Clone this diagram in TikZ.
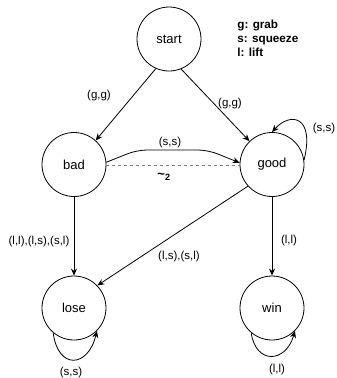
\documentclass[tikz,border=0pt]{standalone}
\usepackage{fontspec}
\setmainfont{Liberation Sans}
\usetikzlibrary{arrows.meta}

\begin{document}
\begin{tikzpicture}[x=1pt,y=-1pt,line width=0.8pt,
    state/.style={circle,draw=black,minimum size=64pt,inner sep=0pt,font=\fontsize{13}{15}\selectfont},
    lbl/.style={inner sep=0pt,font=\fontsize{11.5}{13}\selectfont},
    arr/.style={-{Stealth[length=7pt,width=6pt]}}]
    \useasboundingbox (0,0) rectangle (337,378);

    \node[state] (start) at (169,39) {start};
    \node[state] (bad) at (74,164.5) {bad};
    \node[state] (good) at (272,164.5) {good};
    \node[state] (lose) at (74,308) {lose};
    \node[state] (win) at (272,308) {win};

    \node[anchor=west,align=left,inner sep=0pt,font=\bfseries\fontsize{11.7}{14}\selectfont] (legend) at (237,38) {g: grab\\s: squeeze\\l: lift};

    % transitions
    \draw[arr] (start.246) -- (bad.48);
    \draw[arr] (start.292) -- (good.134);
    \draw[arr,rounded corners=10pt] (bad.4) -- (137,150) -- (208,150) -- (good.177);
    \draw[gray,dash pattern=on 3pt off 3pt] (bad.-2) -- (good.182);
    \draw[arr] (good.8) .. controls (315,115) and (290,112) .. (good.90);
    \draw[arr] (bad.south) -- (lose.north);
    \draw[arr] (good.222) -- (lose.44);
    \draw[arr] (good.south) -- (win.north);
    \draw[arr] (lose.230) .. controls (58,370) and (88,368) .. (lose.-45);
    \draw[arr] (win.230) .. controls (256,365) and (286,363) .. (win.-45);

    \node[lbl] (lsg) at (99,96) {(g,g)};
    \node[lbl] (lgg) at (230,104) {(g,g)};
    \node[lbl] (lbg) at (170,143) {(s,s)};
    \node[inner sep=0pt,font=\bfseries\fontsize{13}{13}\selectfont] (lsim) at (164,177) {\textasciitilde\textsubscript{2}};
    \node[lbl] (lgl) at (324,129) {(s,s)};
    \node[lbl] (lbl) at (39,242) {(l,l),(l,s),(s,l)};
    \node[lbl] (lgo) at (179,257) {(l,s),(s,l)};
    \node[lbl] (lgw) at (289,241) {(l,l)};
    \node[lbl] (lll) at (71,373) {(s,s)};
    \node[lbl] (lwl) at (277,370) {(l,l)};
\end{tikzpicture}
\end{document}
